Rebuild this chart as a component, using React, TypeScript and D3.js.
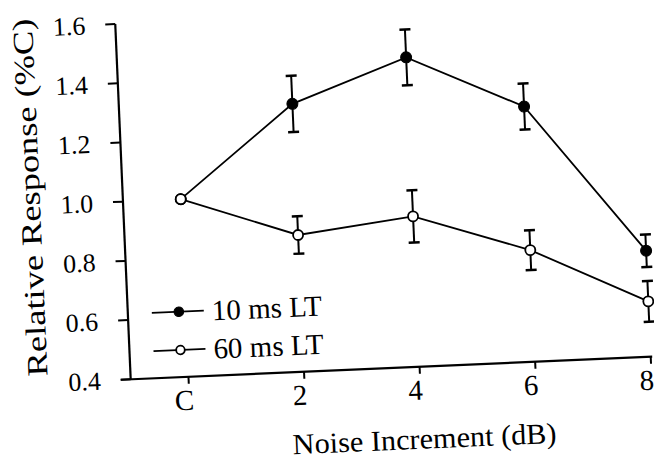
import React from 'react';
import * as d3 from 'd3';

// Noise increment categories (C = control) and series
const categories = ['C', '2', '4', '6', '8'];
const lt10Mean = [1.0, 1.305, 1.445, 1.262, 0.758];
const lt10Err = [0, 0.095, 0.094, 0.078, 0.055];
const lt60Mean = [1.0, 0.862, 0.908, 0.777, 0.587];
const lt60Err = [0, 0.063, 0.088, 0.067, 0.069];
const yTicks = [0.4, 0.6, 0.8, 1.0, 1.2, 1.4, 1.6];
const legendLabels = ['10 ms LT', '60 ms LT'];

const width = 654;
const height = 459;
const origin = { x: 130.7, y: 379.3 };
const tilt = -2.49; // the scanned figure is slightly rotated
const font = "'Liberation Serif', 'DejaVu Serif', serif";

const App: React.FC = () => {
  const xScale = d3.scaleLinear().domain([-0.5, 4]).range([0, 520.5]);
  const yScale = d3.scaleLinear().domain([0.4, 1.6]).range([0, -355.6]);

  const line = d3.line<number>()
    .x((_, i) => xScale(i))
    .y(d => yScale(d));

  const series = [
    { mean: lt10Mean, err: lt10Err, filled: true },
    { mean: lt60Mean, err: lt60Err, filled: false }
  ];

  return (
    <div style={{ fontFamily: font }}>
      <style>{`svg text { font-family: ${font}; fill: #000; }`}</style>
      <svg
        width={width}
        height={height}
        viewBox={`0 0 ${width} ${height}`}
        style={{ position: 'absolute', left: 0, top: 0, background: '#fff', overflow: 'hidden' }}
      >
        <g transform={`translate(${origin.x},${origin.y}) rotate(${tilt})`}>
          {/* axes */}
          <line x1={-10} x2={522} y1={0} y2={0} stroke="#000" strokeWidth={2.2} />
          <line x1={0} x2={0} y1={0} y2={yScale(1.6)} stroke="#000" strokeWidth={2.2} />

          {yTicks.map(t => (
            <g key={t} transform={`translate(0,${yScale(t)})`}>
              <line x1={-10} x2={0} stroke="#000" strokeWidth={2} />
              <text x={-30} dy="0.35em" textAnchor="end" fontSize={26}>
                {t.toFixed(1)}
              </text>
            </g>
          ))}

          {categories.map((c, i) => (
            <g key={c} transform={`translate(${xScale(i)},0)`}>
              <line y1={0} y2={7} stroke="#000" strokeWidth={2} />
              <text x={-5} y={33} textAnchor="middle" fontSize={29}>{c}</text>
            </g>
          ))}

          {/* axis titles */}
          <text
            x={291}
            y={82}
            textAnchor="middle"
            fontSize={29}
            textLength={264}
            lengthAdjust="spacingAndGlyphs"
          >
            Noise Increment (dB)
          </text>
          <text
            transform={`translate(-83,-186) rotate(-90)`}
            textAnchor="middle"
            fontSize={29}
            textLength={358}
            lengthAdjust="spacingAndGlyphs"
          >
            Relative Response (%C)
          </text>

          {/* series */}
          {series.map((s, k) => (
            <g key={k}>
              <path d={line(s.mean) || ''} fill="none" stroke="#000" strokeWidth={1.8} />
              {s.mean.map((m, i) => s.err[i] > 0 && (
                <g key={i} stroke="#000">
                  <line x1={xScale(i)} x2={xScale(i)} y1={yScale(m - s.err[i])} y2={yScale(m + s.err[i])} strokeWidth={2} />
                  <line x1={xScale(i) - 5.5} x2={xScale(i) + 5.5} y1={yScale(m + s.err[i])} y2={yScale(m + s.err[i])} strokeWidth={2.5} />
                  <line x1={xScale(i) - 5.5} x2={xScale(i) + 5.5} y1={yScale(m - s.err[i])} y2={yScale(m - s.err[i])} strokeWidth={2.5} />
                </g>
              ))}
              {s.mean.map((m, i) => (
                <circle
                  key={i}
                  cx={xScale(i)}
                  cy={yScale(m)}
                  r={s.filled ? 5.5 : 5}
                  fill={s.filled ? '#000' : '#fff'}
                  stroke="#000"
                  strokeWidth={s.filled ? 1 : 1.8}
                />
              ))}
            </g>
          ))}

          {/* legend */}
          {legendLabels.map((label, k) => (
            <g key={label} transform={`translate(0,${k === 0 ? -65.4 : -27.1})`}>
              <line x1={24} x2={76} stroke="#000" strokeWidth={1.8} />
              <circle
                cx={51}
                cy={0}
                r={k === 0 ? 4.8 : 4.3}
                fill={k === 0 ? '#000' : '#fff'}
                stroke="#000"
                strokeWidth={k === 0 ? 1 : 1.8}
              />
              <text x={84} y={10} fontSize={29}>{label}</text>
            </g>
          ))}
        </g>
      </svg>
    </div>
  );
};

export default App;
